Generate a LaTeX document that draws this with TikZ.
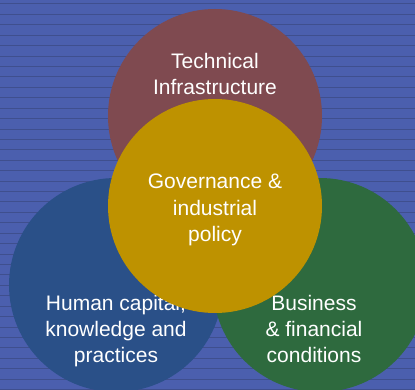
\documentclass[tikz,border=0pt]{standalone}
\usepackage{fontspec}
\setmainfont{Liberation Sans}
\usetikzlibrary{positioning}

\definecolor{bgblue}{HTML}{4B5FAE}
\definecolor{stripe}{HTML}{3F4F8E}
\definecolor{techred}{HTML}{7F4A50}
\definecolor{humanblue}{HTML}{2A5088}
\definecolor{bizgreen}{HTML}{2E6A3E}
\definecolor{govgold}{HTML}{BE9200}

\begin{document}
\begin{tikzpicture}[x=1pt, y=-1pt,
    circ/.style={circle, minimum size=214pt, inner sep=0pt},
    lbl/.style={text=white, align=center, font=\fontsize{21}{26}\selectfont}]
    % background with horizontal stripes
    \fill[bgblue] (0,0) rectangle (415,390);
    \useasboundingbox (0,0) rectangle (415,390);
    \foreach \i in {0,...,37}
        \draw[stripe, line width=1pt] (0,4+10.42*\i) -- (415,4+10.42*\i);
    % outer circles
    \node[circ, fill=techred] (tech) at (215,116) {};
    \node[circ, fill=humanblue] (human) at (116,285) {};
    \node[circ, fill=bizgreen] (business) at (320,285) {};
    \node[lbl, anchor=base] (techtxt) at (215,95) {Technical\\Infrastructure};
    \node[lbl, anchor=base] (humantxt) at (116,362) {Human capital,\\knowledge and\\practices};
    \node[lbl, anchor=base] (biztxt) at (314,362) {Business\\\& financial\\conditions};
    % centre circle on top
    \node[circ, fill=govgold] (gov) at (215,206) {};
    \node[lbl, anchor=base] (govtxt) at (215,241) {Governance \&\\industrial\\policy};
\end{tikzpicture}
\end{document}
